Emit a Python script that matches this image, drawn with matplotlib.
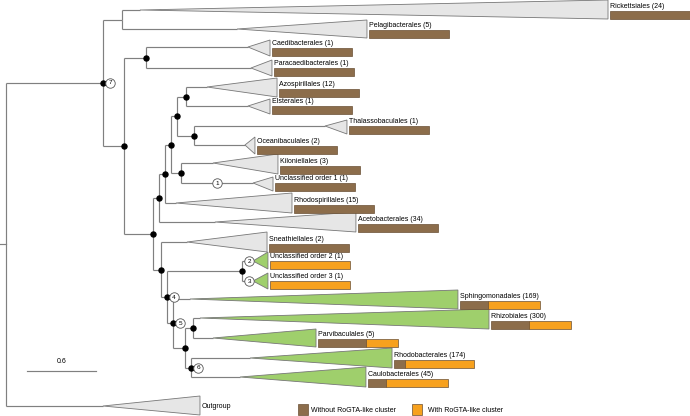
import matplotlib
matplotlib.use("Agg")
import matplotlib.pyplot as plt
from matplotlib.patches import Polygon, Rectangle

plt.rcParams['font.family'] = ['Liberation Sans', 'DejaVu Sans']

# ---------------- data ----------------
# collapsed clades (orders)
clade_names = ["Rickettsiales", "Pelagibacterales", "Caedibacterales", "Paracaedibacterales",
               "Azospirillales", "Elsterales", "Thalassobaculales", "Oceanibaculales",
               "Kiloniellales", "Unclassified order 1", "Rhodospirillales", "Acetobacterales",
               "Sneathiellales", "Unclassified order 2", "Unclassified order 3",
               "Sphingomonadales", "Rhizobiales", "Parvibaculales", "Rhodobacterales",
               "Caulobacterales", "Outgroup"]
clade_counts = [24, 5, 1, 1, 12, 1, 1, 2, 3, 1, 15, 34, 2, 1, 1, 169, 300, 5, 174, 45, None]
# genomes without the RoGTA-like cluster
without_counts = [24, 5, 1, 1, 12, 1, 1, 2, 3, 1, 15, 34, 2, 0, 0, 59, 144, 3, 25, 10, None]
# depth of the clade stem end (triangle apex) and of the deepest tip (triangle base)
apex_depth = [1.165, 2.009, 2.104, 2.130, 1.748, 2.104, 2.774, 2.078, 1.800, 2.148, 1.478, 1.817,
              1.574, 2.148, 2.148, 1.600, 1.687, 1.800, 2.122, 2.035, 0.843]
tip_depth = [5.235, 3.139, 2.296, 2.313, 2.357, 2.296, 2.965, 2.165, 2.365, 2.322, 2.487, 3.043,
             2.270, 2.278, 2.278, 3.930, 4.200, 2.696, 3.357, 3.130, 1.687]
# vertical layout rows (stem row, triangle top, triangle bottom)
clade_row = [10, 29, 47, 68, 87, 106, 126, 145, 163, 183, 203, 222, 242, 261, 281,
             299, 318, 338, 358, 377, 406]
clade_top = [0, 20, 40, 60, 78, 99, 120, 137, 154, 177, 193, 212, 232, 252, 273,
             290, 309, 329, 348, 367, 396]
clade_bot = [19, 38, 56, 76, 97, 114, 134, 154, 174, 191, 213, 232, 252, 269, 289,
             309, 329, 347, 368, 387, 415]
clade_green = [False] * 13 + [True] * 7 + [False]

# internal nodes: name -> depth
node_depth = {"root": 0.0, "n7": 0.843, "nA": 1.009, "nB": 1.026, "nC": 1.217, "nD": 1.278,
              "nE": 1.330, "nF": 1.383, "nG": 1.435, "nJ": 1.487, "nK": 1.565, "nL": 1.635,
              "nH": 1.522, "nM": 1.348, "n4": 1.400, "nO": 2.052, "n5": 1.452, "nP": 1.557,
              "nQ": 1.626, "n6": 1.609}
children = {
    "root": ["n7", "Outgroup"],
    "n7": ["nA", "nB"],
    "nA": ["Rickettsiales", "Pelagibacterales"],
    "nB": ["nC", "nD"],
    "nC": ["Caedibacterales", "Paracaedibacterales"],
    "nD": ["nE", "nM"],
    "nE": ["nF", "Acetobacterales"],
    "nF": ["nG", "Rhodospirillales"],
    "nG": ["nJ", "nH"],
    "nJ": ["nK", "nL"],
    "nK": ["Azospirillales", "Elsterales"],
    "nL": ["Thalassobaculales", "Oceanibaculales"],
    "nH": ["Kiloniellales", "Unclassified order 1"],
    "nM": ["Sneathiellales", "n4"],
    "n4": ["nO", "n5"],
    "nO": ["Unclassified order 2", "Unclassified order 3"],
    "n5": ["Sphingomonadales", "nP"],
    "nP": ["nQ", "n6"],
    "nQ": ["Rhizobiales", "Parvibaculales"],
    "n6": ["Rhodobacterales", "Caulobacterales"],
}
supported_nodes = ["n7", "nB", "nC", "nD", "nE", "nF", "nG", "nJ", "nK", "nL", "nH",
                   "nM", "n4", "nO", "n5", "nP", "nQ", "n6"]
numbered_nodes = {"n4": "4", "n5": "5", "n6": "6", "n7": "7"}
numbered_branches = {"Unclassified order 1": "1", "Unclassified order 2": "2",
                     "Unclassified order 3": "3"}
scale_length = 0.6

# ---------------- styles ----------------
LINE = "#808080"
GRAY_FILL = "#e6e6e6"
GREEN_FILL = "#9fcf6c"
BROWN = "#8c6d4b"
ORANGE = "#f7a11e"
BAR_EDGE = "#6a5035"
FS = 5.0
BAR_W = 0.70      # bar length in tree units (100 %)
BAR_H = 8

fig = plt.figure(figsize=(6.9, 4.16), dpi=100)
ax = fig.add_axes([0, 0, 1, 1])
ax.set_xlim(-0.052, 5.948)
ax.set_ylim(416, 0)
ax.axis("off")

# positions
pos = {}
for i, n in enumerate(clade_names):
    pos[n] = (apex_depth[i], clade_row[i])


def node_y(n):
    if n in pos:
        return pos[n][1]
    ys = [node_y(c) for c in children[n]]
    y = sum(ys) / len(ys)
    pos[n] = (node_depth[n], y)
    return y


node_y("root")

# branches
for p, chs in children.items():
    px, py = pos[p]
    for c in chs:
        cx, cy = pos[c]
        ax.plot([px, px], [py, cy], color=LINE, lw=0.85, zorder=1, solid_capstyle="butt")
        ax.plot([px, cx], [cy, cy], color=LINE, lw=0.85, zorder=1, solid_capstyle="butt")

# root stub
rx, ry = pos["root"]
ax.plot([rx - 0.052, rx], [ry, ry], color=LINE, lw=0.85, zorder=1)

# triangles, labels and bars
for i, n in enumerate(clade_names):
    ax_, ay = pos[n]
    tri = Polygon([[ax_, ay], [tip_depth[i], clade_top[i]], [tip_depth[i], clade_bot[i]]],
                  closed=True, facecolor=GREEN_FILL if clade_green[i] else GRAY_FILL,
                  edgecolor="#777777", lw=0.6, zorder=2)
    ax.add_patch(tri)
    x0 = tip_depth[i] + 0.015
    if clade_counts[i] is None:
        ax.text(x0, clade_row[i] + 1, n, fontsize=FS, va="center", ha="left", zorder=4)
        continue
    ax.text(x0, clade_bot[i] - BAR_H - 0.8, f"{n} ({clade_counts[i]})", fontsize=FS,
            va="bottom", ha="left", zorder=4)
    frac = without_counts[i] / clade_counts[i]
    if frac > 0:
        ax.add_patch(Rectangle((x0, clade_bot[i] - BAR_H), BAR_W * frac, BAR_H,
                               facecolor=BROWN, edgecolor=BAR_EDGE, lw=0.5, zorder=3))
    if frac < 1:
        ax.add_patch(Rectangle((x0 + BAR_W * frac, clade_bot[i] - BAR_H), BAR_W * (1 - frac),
                               BAR_H, facecolor=ORANGE, edgecolor=BAR_EDGE, lw=0.5, zorder=3))

# support dots
for n in supported_nodes:
    x, y = pos[n]
    ax.plot(x, y, "o", color="black", ms=3.6, zorder=5)


def circled(x, y, s):
    ax.plot(x, y, "o", ms=6.8, mfc="white", mec="#555555", mew=0.6, zorder=6)
    ax.text(x, y + 0.3, s, fontsize=4.6, ha="center", va="center", zorder=7)


for n, s in numbered_nodes.items():
    x, y = pos[n]
    circled(x + 0.062, y, s)
for n, s in numbered_branches.items():
    i = clade_names.index(n)
    pp = [p for p, c in children.items() if n in c][0]
    px = pos[pp][0]
    if n == "Unclassified order 1":
        cx = 1.835
    else:
        cx = px + 0.062
    circled(cx, clade_row[i], s)

# scale bar
sx0 = 0.183
ax.plot([sx0, sx0 + scale_length], [371, 371], color=LINE, lw=0.85)
ax.text(sx0 + scale_length / 2, 365, "0.6", fontsize=FS, ha="center", va="bottom")

# legend
ax.add_patch(Rectangle((2.539, 404), 0.09, 11, facecolor=BROWN, edgecolor=BAR_EDGE, lw=0.5))
ax.text(2.652, 410, "Without RoGTA-like cluster", fontsize=FS, va="center", ha="left")
ax.add_patch(Rectangle((3.530, 404), 0.09, 11, facecolor=ORANGE, edgecolor=BAR_EDGE, lw=0.5))
ax.text(3.670, 410, "With RoGTA-like cluster", fontsize=FS, va="center", ha="left")

fig.savefig("out.png", dpi=100)
